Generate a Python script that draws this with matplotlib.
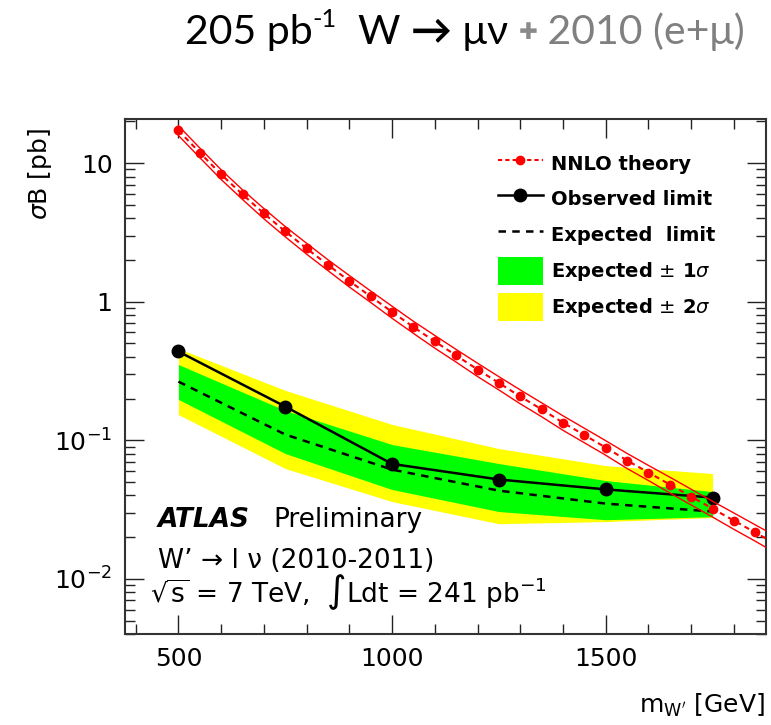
import matplotlib
matplotlib.use('Agg')
import matplotlib.pyplot as plt
from matplotlib.lines import Line2D
from matplotlib.patches import Patch
from matplotlib.ticker import FixedLocator, MultipleLocator, LogLocator, NullFormatter, FixedFormatter

# ---------------- data ----------------
masses = [500, 750, 1000, 1250, 1500, 1750]
observed = [0.437, 0.175, 0.0675, 0.0521, 0.0442, 0.0386]
expected = [0.265, 0.110, 0.0614, 0.0433, 0.0349, 0.0306]
exp_1s_up = [0.352, 0.164, 0.0931, 0.0679, 0.0512, 0.0426]
exp_1s_dn = [0.197, 0.0802, 0.0441, 0.0306, 0.0267, 0.0281]
exp_2s_up = [0.459, 0.229, 0.130, 0.0871, 0.0656, 0.0575]
exp_2s_dn = [0.153, 0.0625, 0.0361, 0.0250, 0.0259, 0.0277]

theory_mass = [500, 550, 600, 650, 700, 750, 800, 850, 900, 950, 1000, 1050,
               1100, 1150, 1200, 1250, 1300, 1350, 1400, 1450, 1500, 1550,
               1600, 1650, 1700, 1750, 1800, 1850, 1900]
theory_xs = [17.2, 11.9, 8.28, 5.94, 4.33, 3.21, 2.42, 1.84, 1.41, 1.09, 0.843,
             0.656, 0.516, 0.409, 0.324, 0.259, 0.207, 0.167, 0.134, 0.109,
             0.0886, 0.0714, 0.0585, 0.0479, 0.0392, 0.0321, 0.0263, 0.0216, 0.0177]
theory_rel_unc = [0.08, 0.08, 0.08, 0.08, 0.085, 0.085, 0.09, 0.09, 0.095, 0.095,
                  0.10, 0.10, 0.105, 0.105, 0.11, 0.11, 0.115, 0.115, 0.12, 0.12,
                  0.12, 0.125, 0.125, 0.13, 0.13, 0.13, 0.135, 0.135, 0.14]

y_ticks = [0.01, 0.1, 1, 10]
y_ticklabels = ['$10^{-2}$', '$10^{-1}$', '1', '10']
x_ticks = [500, 1000, 1500]

legend_labels = ['NNLO theory', 'Observed limit', 'Expected  limit',
                 r'Expected $\pm$ 1$\sigma$', r'Expected $\pm$ 2$\sigma$']

# ---------------- figure ----------------
W, H = 771, 725
fig = plt.figure(figsize=(W / 100, H / 100), dpi=100)
L, R, T, B = 125, 766, 119, 634
ax = fig.add_axes([L / W, 1 - B / H, (R - L) / W, (B - T) / H])

ax.fill_between(masses, exp_2s_dn, exp_2s_up, color='#ffff00', lw=0, zorder=1)
ax.fill_between(masses, exp_1s_dn, exp_1s_up, color='#00ff00', lw=0, zorder=2)
ax.plot(masses, expected, color='black', ls=(0, (3, 2.5)), lw=1.8, zorder=3)
ax.plot(masses, observed, color='black', lw=1.8, marker='o', ms=9, zorder=4)

th_up = [v * (1 + u) for v, u in zip(theory_xs, theory_rel_unc)]
th_dn = [v * (1 - u) for v, u in zip(theory_xs, theory_rel_unc)]
ax.plot(theory_mass, th_up, color='red', lw=1.0, zorder=5)
ax.plot(theory_mass, th_dn, color='red', lw=1.0, zorder=5)
ax.plot(theory_mass, theory_xs, color='red', ls=(0, (2.5, 2)), lw=1.5,
        marker='o', ms=6, zorder=6)

ax.set_yscale('log')
ax.set_xlim(375, 1875)
ax.set_ylim(0.004, 20.8)

ax.yaxis.set_major_locator(FixedLocator(y_ticks))
ax.yaxis.set_major_formatter(FixedFormatter(y_ticklabels))
ax.yaxis.set_minor_locator(LogLocator(base=10, subs=[2, 3, 4, 5, 6, 7, 8, 9], numticks=20))
ax.yaxis.set_minor_formatter(NullFormatter())
ax.xaxis.set_major_locator(FixedLocator(x_ticks))
ax.xaxis.set_minor_locator(MultipleLocator(100))

ax.tick_params(which='both', direction='in', top=True, right=True,
               colors='#222222', labelcolor='black')
ax.tick_params(which='major', length=14, width=1.0, labelsize=18, pad=9)
ax.tick_params(which='minor', length=7, width=1.0)
for sp in ax.spines.values():
    sp.set_linewidth(1.5)
    sp.set_color('#333333')

handles = [
    Line2D([], [], color='red', ls=(0, (2, 1.5)), lw=1.5, marker='o', ms=6),
    Line2D([], [], color='black', lw=1.8, marker='o', ms=9),
    Line2D([], [], color='black', ls=(0, (3, 2.5)), lw=1.8),
    Patch(facecolor='#00ff00', edgecolor='none'),
    Patch(facecolor='#ffff00', edgecolor='none'),
]
ax.legend(handles, legend_labels, loc='upper left',
          bbox_to_anchor=((498 - L) / (R - L), 1 - (149.5 - T) / (B - T)),
          frameon=False, borderpad=0, borderaxespad=0, handlelength=2.3,
          handleheight=1.8, labelspacing=0.43, handletextpad=0.45,
          prop={'weight': 'bold', 'size': 14})

# axis labels
fig.text(40 / W, 1 - 128 / H, r'$\sigma$B [pb]', rotation=90, ha='center',
         va='top', fontsize=18)
fig.text(765 / W, 1 - 705 / H, r"m$_{\mathrm{W'}}$ [GeV]", ha='right',
         va='center', fontsize=18)

# ATLAS block
fig.text(158 / W, 1 - 527 / H, 'ATLAS', fontsize=19, fontweight='bold',
         style='italic', va='baseline')
fig.text(273 / W, 1 - 527 / H, 'Preliminary', fontsize=19, va='baseline')
fig.text(158 / W, 1 - 568 / H, "W\u2019 \u2192 l \u03bd (2010-2011)",
         fontsize=19, va='baseline')
fig.text(150 / W, 1 - 602 / H,
         r"$\sqrt{\mathrm{s}}$ = 7 TeV,  $\int$Ldt = 241 pb$^{-1}$", fontsize=19,
         va='baseline')

# title built from pieces
renderer = fig.canvas.get_renderer()
fam = ['Lato', 'DejaVu Sans']
pieces = [
    ('205 pb', 1.0, 0.0, 'black', 'normal'),
    ('-1', 0.62, 0.42, 'black', 'normal'),
    ('  W ', 1.0, 0.0, 'black', 'normal'),
    ('\u2192', 1.0, 0.0, 'black', 'bold'),
    (' \u03bc\u03bd ', 1.0, 0.0, 'black', 'normal'),
    ('\u271a', 0.55, 0.12, '#8a8a8a', 'normal'),
    (' 2010 (e+\u03bc)', 1.0, 0.0, '#808080', 'normal'),
]


def draw_title(size, x0, base):
    x = x0
    objs = []
    for s, sc, rise, col, wt in pieces:
        t = fig.text(x / W, 1 - (base - rise * size * 100 / 72) / H, s,
                     fontsize=size * sc, color=col, fontweight=wt,
                     family=fam, va='baseline', ha='left')
        bb = t.get_window_extent(renderer)
        x += bb.width
        objs.append(t)
    return objs, x - x0


objs, width = draw_title(28, 185, 44)
for o in objs:
    o.remove()
size = 28 * (745 - 185) / width
draw_title(size, 185, 44)

fig.savefig('out.png', dpi=100)
